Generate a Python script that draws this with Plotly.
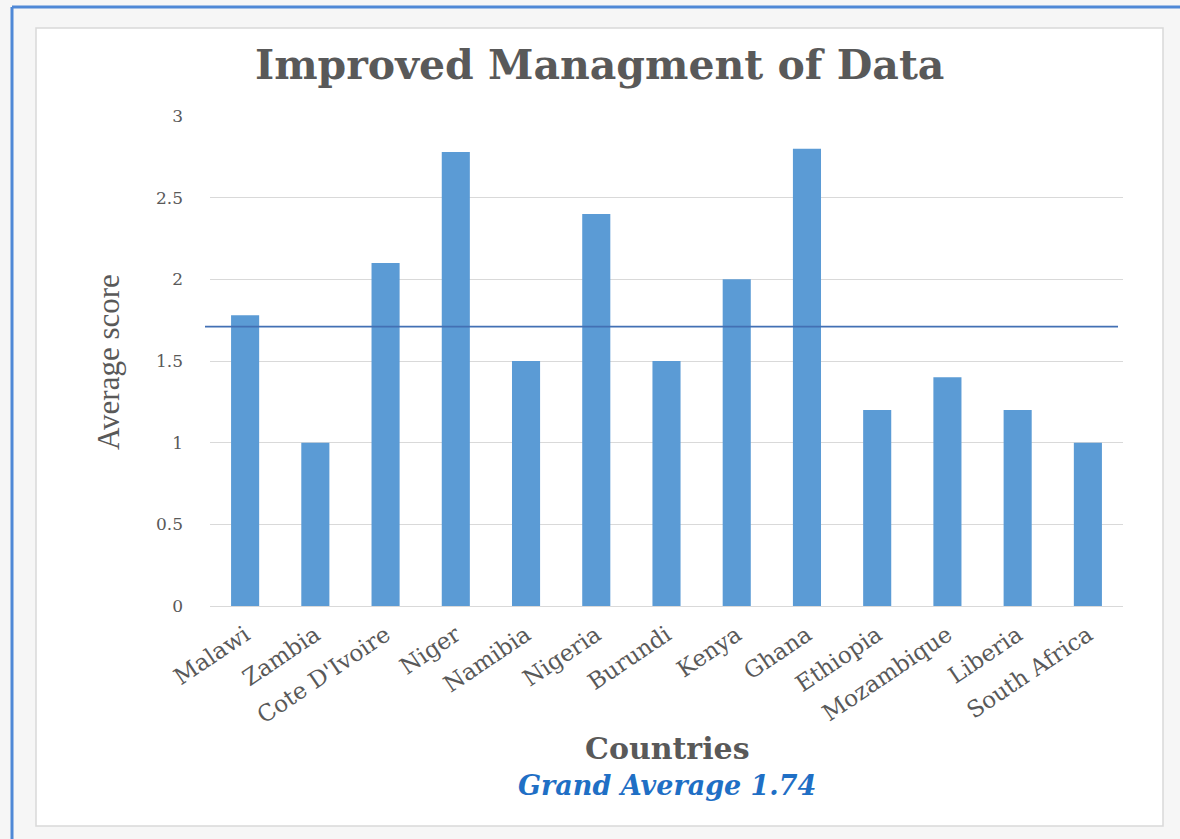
import plotly.graph_objects as go

countries = ["Malawi", "Zambia", "Cote D'Ivoire", "Niger", "Namibia", "Nigeria", "Burundi",
             "Kenya", "Ghana", "Ethiopia", "Mozambique", "Liberia", "South Africa"]
scores = [1.78, 1.0, 2.1, 2.78, 1.5, 2.4, 1.5, 2.0, 2.8, 1.2, 1.4, 1.2, 1.0]
average_line = 1.71
y_ticks = [0, 0.5, 1, 1.5, 2, 2.5, 3]
y_tick_labels = ["0", "0.5", "1", "1.5", "2", "2.5", "3"]

W, H = 1180, 839
def px(x):
    return x / W
def py(y):
    return 1 - y / H

fig = go.Figure()
fig.add_trace(go.Bar(x=countries, y=scores, marker=dict(color="#5b9bd5", line=dict(width=0)),
                     showlegend=False, hoverinfo="skip"))

serif = "DejaVu Serif"
fig.update_layout(
    autosize=True,
    margin=dict(l=0, r=0, t=0, b=0, autoexpand=False),
    paper_bgcolor="#f6f6f6",
    plot_bgcolor="white",
    bargap=0.6,
    xaxis=dict(domain=[px(210), px(1123)], tickangle=-34, showgrid=False, showline=False,
               ticks="", automargin=False, ticklabelstandoff=10,
               tickfont=dict(family=serif, size=23, color="#595959")),
    yaxis=dict(domain=[py(606), py(116)], range=[0, 3], tickvals=y_ticks, ticktext=y_tick_labels,
               showgrid=True, gridcolor="#d9d9d9", gridwidth=1, zeroline=True, zerolinecolor="#d9d9d9",
               zerolinewidth=1, ticks="", ticklabelstandoff=26, automargin=False,
               tickfont=dict(family=serif, size=17, color="#595959")),
    shapes=[
        dict(type="rect", xref="paper", yref="paper", x0=px(36), x1=px(1163), y0=py(826), y1=py(28),
             fillcolor="white", line=dict(color="#d9d9d9", width=1.5), layer="below"),
        dict(type="line", xref="paper", yref="paper", x0=px(12), x1=px(12), y0=0, y1=py(7),
             line=dict(color="#4f88d6", width=3), layer="above"),
        dict(type="line", xref="paper", yref="paper", x0=px(12), x1=1, y0=py(7), y1=py(7),
             line=dict(color="#4f88d6", width=3), layer="above"),
        dict(type="line", xref="paper", yref="y", x0=px(205), x1=px(1118),
             y0=average_line, y1=average_line, line=dict(color="#4370b4", width=1.8), layer="above"),
    ],
    annotations=[
        dict(text="<b>Improved Managment of Data</b>", xref="paper", yref="paper", x=px(599), y=py(65),
             showarrow=False, font=dict(family=serif, size=41, color="#595959"), xanchor="center", yanchor="middle"),
        dict(text="Average score", xref="paper", yref="paper", x=px(108), y=py(362), textangle=-90,
             showarrow=False, font=dict(family="Liberation Serif", size=31, color="#595959"),
             xanchor="center", yanchor="middle"),
        dict(text="<b>Countries</b>", xref="paper", yref="paper", x=px(667), y=py(748),
             showarrow=False, font=dict(family=serif, size=30, color="#595959"), xanchor="center", yanchor="middle"),
        dict(text="<b><i>Grand Average 1.74</i></b>", xref="paper", yref="paper", x=px(667), y=py(785),
             showarrow=False, font=dict(family=serif, size=27, color="#1f6fc5"), xanchor="center", yanchor="middle"),
    ],
)
fig.write_html(
    "out.html",
    default_width="100vw",
    default_height="100vh",
    config=dict(displayModeBar=False, responsive=True),
    post_script=("document.documentElement.style.margin='0';document.body.style.margin='0';"
                 "document.body.style.overflow='hidden';"
                 "Plotly.Plots.resize(document.getElementById('{plot_id}'));"),
)
